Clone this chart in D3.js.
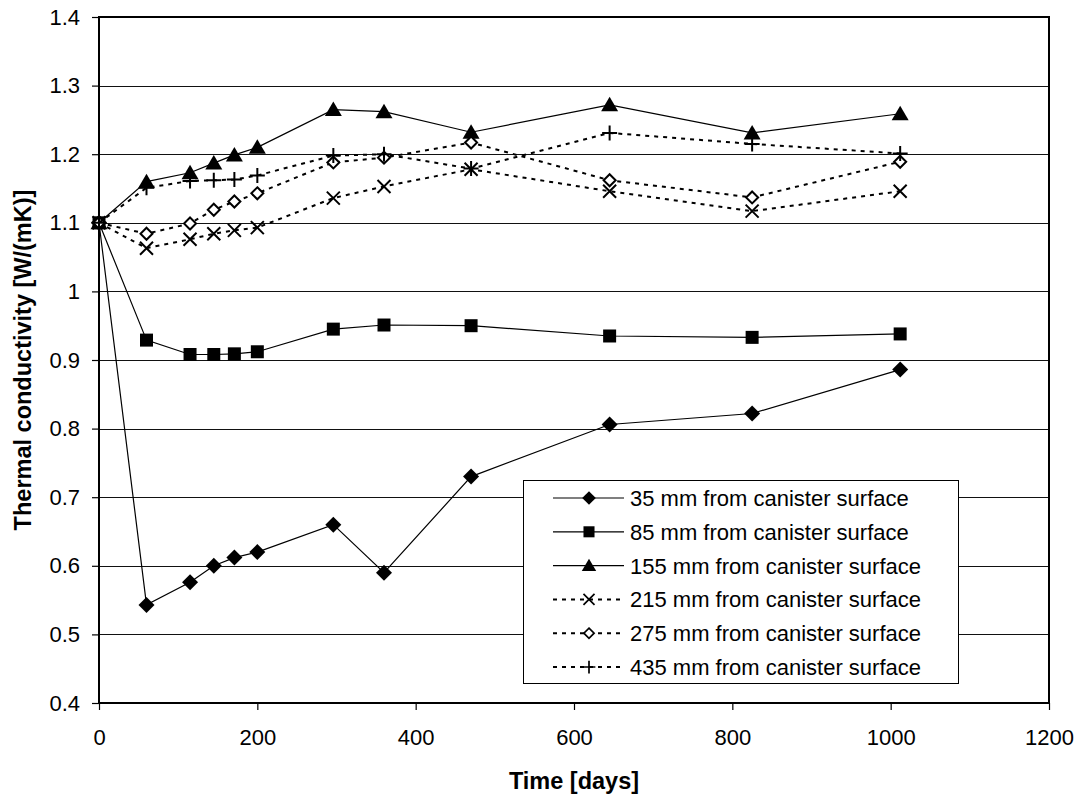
<!DOCTYPE html>
<html>
<head>
<meta charset="utf-8">
<script src="https://cdn.jsdelivr.net/npm/d3@7"></script>
<style>
  body { margin: 0; background: #fff; }
  text { font-family: Arial, "Liberation Sans", sans-serif; fill: #000; }
</style>
</head>
<body>
<div id="chart"></div>
<script>
// Data
var days = [0, 60, 115, 145, 171, 200, 296, 360, 470, 645, 825, 1012];
var mm35  = [1.1, 0.543, 0.576, 0.600, 0.612, 0.620, 0.660, 0.590, 0.730, 0.806, 0.822, 0.886];
var mm85  = [1.1, 0.929, 0.908, 0.908, 0.909, 0.912, 0.945, 0.951, 0.950, 0.935, 0.933, 0.938];
var mm155 = [1.1, 1.160, 1.173, 1.187, 1.199, 1.210, 1.265, 1.262, 1.232, 1.272, 1.231, 1.259];
var mm215 = [1.1, 1.063, 1.076, 1.084, 1.089, 1.093, 1.136, 1.153, 1.178, 1.146, 1.117, 1.146];
var mm275 = [1.1, 1.084, 1.099, 1.119, 1.131, 1.143, 1.188, 1.195, 1.217, 1.162, 1.137, 1.189];
var mm435 = [1.1, 1.151, 1.161, 1.162, 1.163, 1.169, 1.198, 1.200, 1.179, 1.231, 1.215, 1.201];

var seriesNames = [
  "35 mm from canister surface",
  "85 mm from canister surface",
  "155 mm from canister surface",
  "215 mm from canister surface",
  "275 mm from canister surface",
  "435 mm from canister surface"
];
var seriesValues = [mm35, mm85, mm155, mm215, mm275, mm435];

var xTicks = [0, 200, 400, 600, 800, 1000, 1200];
var xTickLabels = ["0", "200", "400", "600", "800", "1000", "1200"];
var yTicks = [0.4, 0.5, 0.6, 0.7, 0.8, 0.9, 1.0, 1.1, 1.2, 1.3, 1.4];
var yTickLabels = ["0.4", "0.5", "0.6", "0.7", "0.8", "0.9", "1", "1.1", "1.2", "1.3", "1.4"];

var xTitle = "Time [days]";
var yTitle = "Thermal conductivity [W/(mK)]";

// Styles per series
var markers = ["diamond", "square", "triangle", "cross", "openDiamond", "plus"];
var dashed = [false, false, false, true, true, true];

var svgWidth = 1081;
var svgHeight = 796;
var margin = { top: 17, right: 32, bottom: 93, left: 99 };
var width = svgWidth - margin.left - margin.right;
var height = svgHeight - margin.top - margin.bottom;

var svg = d3.select("#chart")
  .append("svg")
  .attr("width", svgWidth)
  .attr("height", svgHeight);

var chartGroup = svg.append("g")
  .attr("transform", `translate(${margin.left}, ${margin.top})`);

var xScale = d3.scaleLinear().domain([0, 1200]).range([0, width]);
var yScale = d3.scaleLinear().domain([0.4, 1.4]).range([height, 0]);

// Gridlines
chartGroup.append("g")
  .selectAll("line")
  .data(yTicks.slice(1, -1))
  .enter()
  .append("line")
  .attr("x1", 0)
  .attr("x2", width)
  .attr("y1", d => Math.round(yScale(d)) + 0.5)
  .attr("y2", d => Math.round(yScale(d)) + 0.5)
  .attr("stroke", "#111")
  .attr("stroke-width", 1);

// Axes
var bottomAxis = d3.axisBottom(xScale)
  .tickValues(xTicks)
  .tickFormat((d, i) => xTickLabels[i])
  .tickSize(7)
  .tickSizeOuter(0)
  .tickPadding(19);
var leftAxis = d3.axisLeft(yScale)
  .tickValues(yTicks)
  .tickFormat((d, i) => yTickLabels[i])
  .tickSize(7)
  .tickSizeOuter(0)
  .tickPadding(12);

var xg = chartGroup.append("g")
  .attr("transform", `translate(0, ${height})`)
  .call(bottomAxis);
var yg = chartGroup.append("g").call(leftAxis);

[xg, yg].forEach(function(g) {
  g.select(".domain").remove();
  g.selectAll("line").attr("stroke", "#000").attr("stroke-width", 1.2);
  g.selectAll("text").style("font-size", "22px").attr("fill", "#000");
});

// Marker shapes
function markerPath(type) {
  switch (type) {
    case "diamond": return "M0,-8L8,0L0,8L-8,0Z";
    case "square": return "M-6.5,-6.5H6.5V6.5H-6.5Z";
    case "triangle": return "M0,-8L8.5,6.5L-8.5,6.5Z";
    case "cross": return "M-6.5,-6.5L6.5,6.5M-6.5,6.5L6.5,-6.5";
    case "openDiamond": return "M0,-6L6,0L0,6L-6,0Z";
    case "plus": return "M-7.5,0H7.5M0,-7.5V7.5";
  }
}
function styleMarker(sel, type) {
  if (type === "cross" || type === "plus") {
    sel.attr("fill", "none").attr("stroke", "#000").attr("stroke-width", 2);
  } else if (type === "openDiamond") {
    sel.attr("fill", "#fff").attr("stroke", "#000").attr("stroke-width", 2);
  } else {
    sel.attr("fill", "#000").attr("stroke", "none");
  }
}

var line = d3.line()
  .x((d, i) => xScale(days[i]))
  .y(d => yScale(d));

// Series
seriesValues.forEach(function(vals, s) {
  var g = chartGroup.append("g");
  g.append("path")
    .datum(vals)
    .attr("d", line)
    .attr("fill", "none")
    .attr("stroke", "#000")
    .attr("stroke-width", dashed[s] ? 2 : 1.2)
    .attr("stroke-dasharray", dashed[s] ? "4,5" : null);

  var m = g.selectAll(".marker")
    .data(vals)
    .enter()
    .append("path")
    .attr("class", "marker")
    .attr("d", markerPath(markers[s]))
    .attr("transform", (d, i) => `translate(${xScale(days[i])}, ${yScale(d)})`);
  styleMarker(m, markers[s]);
});

// Plot frame
chartGroup.append("rect")
  .attr("x", 0)
  .attr("y", 0)
  .attr("width", width)
  .attr("height", height)
  .attr("fill", "none")
  .attr("stroke", "#000")
  .attr("stroke-width", 2);

// Legend
var legend = svg.append("g").attr("transform", "translate(523, 480)");
legend.append("rect")
  .attr("x", 0.5)
  .attr("y", 0.5)
  .attr("width", 435)
  .attr("height", 203)
  .attr("fill", "#fff")
  .attr("stroke", "#000")
  .attr("stroke-width", 1);

seriesNames.forEach(function(name, s) {
  var row = legend.append("g").attr("transform", `translate(0, ${18 + s * 33.8})`);
  row.append("line")
    .attr("x1", 30)
    .attr("x2", 101)
    .attr("stroke", "#000")
    .attr("stroke-width", dashed[s] ? 2 : 1.2)
    .attr("stroke-dasharray", dashed[s] ? "4,5" : null);
  var m = row.append("path")
    .attr("d", markerPath(markers[s]))
    .attr("transform", "translate(66, 0) scale(0.85)");
  styleMarker(m, markers[s]);
  row.append("text")
    .attr("x", 107)
    .attr("dy", "0.36em")
    .style("font-size", "22px")
    .text(name);
});

// Axis titles
svg.append("text")
  .attr("x", margin.left + width / 2)
  .attr("y", 789)
  .attr("text-anchor", "middle")
  .style("font-size", "23.5px")
  .style("font-weight", "bold")
  .text(xTitle);

svg.append("text")
  .attr("transform", `translate(31, ${margin.top + height / 2}) rotate(-90)`)
  .attr("text-anchor", "middle")
  .style("font-size", "23.5px")
  .style("font-weight", "bold")
  .text(yTitle);
</script>
</body>
</html>
